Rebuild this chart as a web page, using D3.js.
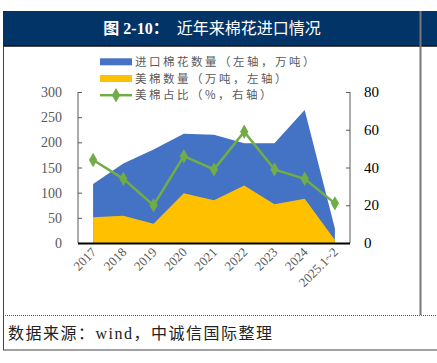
<!DOCTYPE html>
<html lang="zh">
<head>
<meta charset="utf-8">
<title>近年来棉花进口情况</title>
<script src="https://cdn.jsdelivr.net/npm/d3@7"></script>
<style>
  body { margin: 0; background: #fff; }
  text { font-family: "Liberation Serif", "Noto Sans CJK SC", serif; }
</style>
</head>
<body>
<script>
// chart data
var categories = ["2017", "2018", "2019", "2020", "2021", "2022", "2023", "2024", "2025.1~2"];
var importTotal = [117, 158, 186, 217, 215, 198, 198, 264, 29];   // 万吨
var usImport = [51, 54, 38, 99, 85, 114, 77, 88, 6];             // 万吨
var usShare = [44, 34, 20, 46, 39, 59, 39, 34, 21];              // %
var leftTicks = [0, 50, 100, 150, 200, 250, 300];
var rightTicks = [0, 20, 40, 60, 80];
var legendLabels = ["进口棉花数量（左轴，万吨）", "美棉数量（万吨，左轴）", "美棉占比（%，右轴）"];

var W = 437, H = 363;
var svg = d3.select("body").append("svg")
  .attr("width", W).attr("height", H);

// frame and header
svg.append("rect").attr("x", 3).attr("y", 11).attr("width", W - 3).attr("height", 35)
  .attr("fill", "#023468");
svg.append("line").attr("x1", 3).attr("x2", W).attr("y1", 46).attr("y2", 46)
  .attr("stroke", "#111").attr("stroke-width", 1.5);
svg.append("line").attr("x1", 420.5).attr("x2", 420.5).attr("y1", 11).attr("y2", 315)
  .attr("stroke", "#777").attr("stroke-width", 2);
svg.append("line").attr("x1", 3.5).attr("x2", 3.5).attr("y1", 46).attr("y2", 350)
  .attr("stroke", "#444").attr("stroke-width", 1);
svg.append("line").attr("x1", 3).attr("x2", W).attr("y1", 315.5).attr("y2", 315.5)
  .attr("stroke", "#555").attr("stroke-width", 1).attr("stroke-dasharray", "1,1");
svg.append("line").attr("x1", 3).attr("x2", W).attr("y1", 350).attr("y2", 350)
  .attr("stroke", "#444").attr("stroke-width", 1);

svg.append("text").attr("x", 212).attr("y", 34).attr("text-anchor", "middle")
  .attr("fill", "#fff").style("font-size", "16px")
  .html('<tspan font-weight="bold">图 2-10：</tspan><tspan dx="8">近年来棉花进口情况</tspan>');

svg.append("text").attr("x", 8).attr("y", 339)
  .attr("fill", "#222").style("font-size", "16px").style("letter-spacing", "1.5px")
  .text("数据来源：wind，中诚信国际整理");

// scales
var x0 = 78, x1 = 350, yTop = 92, yBot = 243;
var x = d3.scaleBand().domain(categories).range([x0, x1]);
var cx = function(i) { return x(categories[i]) + x.bandwidth() / 2; };
var yL = d3.scaleLinear().domain([0, 300]).range([yBot, yTop]);
var yR = d3.scaleLinear().domain([0, 80]).range([yBot, yTop]);

// areas
var areaL = function(vals) {
  return d3.area().x(function(d, i) { return cx(i); })
    .y0(yBot).y1(function(d) { return yL(d); })(vals);
};
svg.append("path").attr("d", areaL(importTotal)).attr("fill", "#4472C4");
svg.append("path").attr("d", areaL(usImport)).attr("fill", "#FFC000");

// share line
var line = d3.line().x(function(d, i) { return cx(i); }).y(function(d) { return yR(d); });
svg.append("path").attr("d", line(usShare)).attr("fill", "none")
  .attr("stroke", "#70AD47").attr("stroke-width", 2.5);
var diamond = d3.symbol().type(d3.symbolDiamond).size(60);
svg.selectAll(".mk").data(usShare).enter().append("path")
  .attr("transform", function(d, i) { return "translate(" + cx(i) + "," + yR(d) + ")"; })
  .attr("d", diamond).attr("fill", "#70AD47");

// axes
var axL = svg.append("g").attr("transform", "translate(" + x0 + ",0)")
  .call(d3.axisRight(yL).tickValues(leftTicks).tickSize(4).tickFormat(""));
axL.selectAll("line, path").attr("stroke", "#595959");
axL.select(".domain").attr("d", "M0," + yTop + "V" + yBot);
svg.selectAll(".ltk").data(leftTicks).enter().append("text")
  .attr("x", 62).attr("y", function(d) { return yL(d) + 5; })
  .attr("text-anchor", "end").attr("fill", "#595959").style("font-size", "14px")
  .text(function(d) { return d; });

var axR = svg.append("g").attr("transform", "translate(" + x1 + ",0)")
  .call(d3.axisLeft(yR).tickValues(rightTicks).tickSize(4).tickFormat(""));
axR.selectAll("line, path").attr("stroke", "#595959");
axR.select(".domain").attr("d", "M0," + yTop + "V" + yBot);
svg.selectAll(".rtk").data(rightTicks).enter().append("text")
  .attr("x", 364).attr("y", function(d) { return yR(d) + 5; })
  .attr("fill", "#000").style("font-size", "15px")
  .text(function(d) { return d; });

svg.append("line").attr("x1", x0).attr("x2", x1).attr("y1", yBot + 0.5).attr("y2", yBot + 0.5)
  .attr("stroke", "#000").attr("stroke-width", 2);

svg.selectAll(".xl").data(categories).enter().append("text")
  .attr("transform", function(d, i) { return "translate(" + (cx(i) + 4) + "," + (yBot + 10) + ") rotate(-45)"; })
  .attr("text-anchor", "end").attr("fill", "#595959").style("font-size", "13px")
  .text(function(d) { return d; });

// legend
var lg = svg.append("g").attr("transform", "translate(100,0)");
var rowY = [61.8, 78.5, 95.2];
lg.append("rect").attr("x", 0).attr("y", rowY[0] - 3.5).attr("width", 32).attr("height", 7).attr("fill", "#4472C4");
lg.append("rect").attr("x", 0).attr("y", rowY[1] - 3.5).attr("width", 32).attr("height", 7).attr("fill", "#FFC000");
lg.append("line").attr("x1", 0).attr("x2", 32).attr("y1", rowY[2]).attr("y2", rowY[2])
  .attr("stroke", "#70AD47").attr("stroke-width", 2.5);
lg.append("path").attr("transform", "translate(16," + rowY[2] + ")").attr("d", diamond).attr("fill", "#70AD47");
lg.selectAll(".lt").data(legendLabels).enter().append("text")
  .attr("x", 35).attr("y", function(d, i) { return rowY[i] + 4; })
  .attr("fill", "#595959").style("font-size", "11.5px").style("letter-spacing", "2.5px")
  .style("font-family", "'Noto Sans CJK SC', sans-serif")
  .text(function(d) { return d; });
</script>
</body>
</html>
